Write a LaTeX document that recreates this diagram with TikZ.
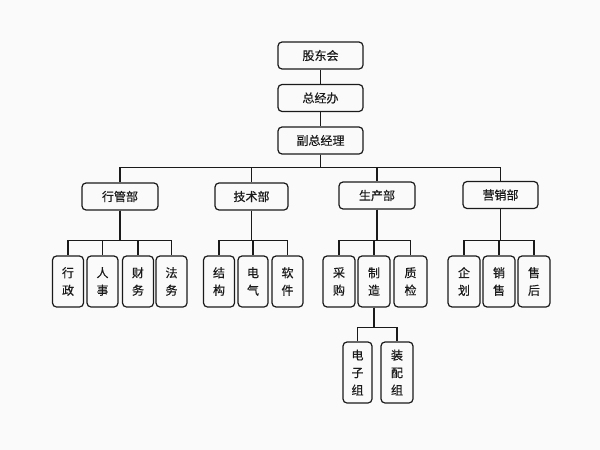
\documentclass[tikz,border=0pt]{standalone}
\usepackage{fontspec}
\setmainfont{Noto Sans CJK SC}
\newfontfamily\cjk[FakeBold=0.6]{Noto Sans CJK SC}
\definecolor{ink}{HTML}{1A1A1A}
\definecolor{paper}{HTML}{FAFAFA}
\begin{document}
\begin{tikzpicture}[x=1pt,y=-1pt,
  box/.style={draw=ink,line width=1.2pt,rounded corners=4pt,inner sep=0pt,
    font=\cjk\fontsize{12}{17.5}\selectfont,text=ink,align=center},
  topbox/.style={box,minimum width=85pt,minimum height=27pt},
  deptbox/.style={box,minimum width=75pt,minimum height=27pt},
  leafbox/.style={box,minimum width=31pt,minimum height=51pt},
  subbox/.style={box,minimum width=30pt,minimum height=61pt},
  link/.style={draw=ink,line width=1.2pt}]
\fill[paper] (0,0) rectangle (600,450);
\useasboundingbox (0,0) rectangle (600,450);
% top chain
\node[topbox] (gd) at (320.5,55.5) {股东会};
\node[topbox] (zj) at (320.5,98) {总经办};
\node[topbox] (fz) at (320.5,140.5) {副总经理};
% departments
\node[deptbox,minimum width=76pt] (xg) at (120,196.5) {行管部};
\node[deptbox,minimum width=73pt] (js) at (251.5,196.5) {技术部};
\node[deptbox,minimum width=76pt] (sc) at (377,195.5) {生产部};
\node[deptbox] (yx) at (500.5,195) {营销部};
% leaves
\node[leafbox] (xz) at (68,281.5) {行\\政};
\node[leafbox] (rs) at (102.5,281.5) {人\\事};
\node[leafbox] (cw) at (138,281.5) {财\\务};
\node[leafbox] (fw) at (171.5,281.5) {法\\务};
\node[leafbox] (jg) at (219,281.5) {结\\构};
\node[leafbox,minimum width=30pt] (dq) at (253,281.5) {电\\气};
\node[leafbox] (rj) at (287.5,281.5) {软\\件};
\node[leafbox,minimum width=32pt] (cg) at (339,281.5) {采\\购};
\node[leafbox,minimum width=32pt] (zz) at (374,281.5) {制\\造};
\node[leafbox,minimum width=33pt] (zj2) at (410.5,281.5) {质\\检};
\node[leafbox,minimum width=32pt] (qh) at (464,281.5) {企\\划};
\node[leafbox,minimum width=32pt] (xs) at (499,281.5) {销\\售};
\node[leafbox,minimum width=32pt] (sh) at (534,281.5) {售\\后};
% sub groups
\node[subbox,minimum width=29pt] (dz) at (357.5,372.5) {电\\子\\组};
\node[subbox,minimum width=32pt] (zp) at (397,372.5) {装\\配\\组};
% connectors
\draw[link] (gd) -- (zj);
\draw[link] (zj) -- (fz);
\foreach \c in {xg,js,sc,yx}
  \draw[link] (fz.south) -- ++(0,12.5) -| (\c.north);
\foreach \c in {xz,rs,cw,fw}
  \draw[link] (xg.south) -- ++(0,30) -| (\c.north);
\foreach \c in {jg,dq,rj}
  \draw[link] (js.south) -- ++(0,30) -| (\c.north);
\foreach \c in {cg,zz,zj2}
  \draw[link] (sc.south) -- ++(0,31) -| (\c.north);
\foreach \c in {qh,xs,sh}
  \draw[link] (yx.south) -- ++(0,31.5) -| (\c.north);
\foreach \c in {dz,zp}
  \draw[link] (zz.south) -- ++(0,20) -| (\c.north);
\end{tikzpicture}
\end{document}
